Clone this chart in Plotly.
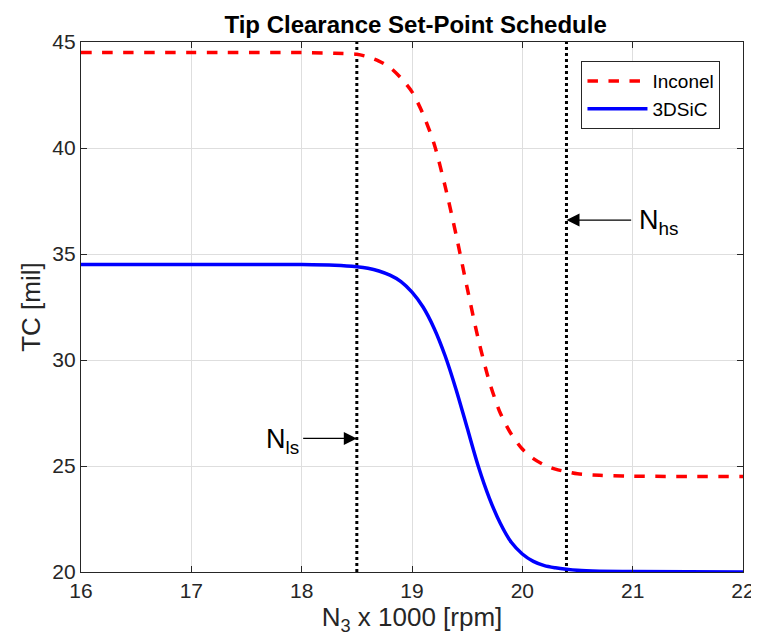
import plotly.graph_objects as go

# ---- data ----
inconel_x = [16.0, 17.0, 18.0, 18.3, 18.5, 18.6, 18.7, 18.8, 18.9, 19.0, 19.1, 19.2, 19.3, 19.4,
             19.5, 19.6, 19.7, 19.8, 19.9, 20.0, 20.1, 20.2, 20.3, 20.4, 20.5, 20.7, 21.0, 22.0]
inconel_y = [44.5, 44.5, 44.5, 44.47, 44.42, 44.3, 44.1, 43.8, 43.3, 42.65, 41.6, 40.2, 38.2, 35.9,
             33.4, 31.0, 29.0, 27.5, 26.5, 25.8, 25.35, 25.05, 24.85, 24.73, 24.63, 24.56, 24.52, 24.5]

sic_x = [16.0, 17.0, 18.0, 18.3, 18.5, 18.6, 18.7, 18.8, 18.9, 19.0, 19.1, 19.2, 19.3, 19.4,
         19.5, 19.6, 19.7, 19.8, 19.9, 20.0, 20.1, 20.2, 20.3, 20.4, 20.5, 20.7, 21.0, 22.0]
sic_y = [34.5, 34.5, 34.5, 34.47, 34.4, 34.33, 34.2, 34.0, 33.7, 33.2, 32.5, 31.5, 30.2, 28.6,
         26.8, 25.0, 23.5, 22.3, 21.4, 20.85, 20.5, 20.3, 20.2, 20.13, 20.08, 20.04, 20.02, 20.0]

speed_marks = [18.5, 20.4]          # N_ls, N_hs
y_range = [20, 45]
x_ticks = [16, 17, 18, 19, 20, 21, 22]
y_ticks = [20, 25, 30, 35, 40, 45]

FONT = "Liberation Sans, Arial, sans-serif"
AX = "#262626"

fig = go.Figure()

for xv in speed_marks:
    fig.add_trace(go.Scatter(x=[xv, xv], y=y_range, mode="lines",
                             line=dict(color="black", width=3, dash="dot"),
                             showlegend=False, hoverinfo="skip"))

fig.add_trace(go.Scatter(x=inconel_x, y=inconel_y, mode="lines", name="Inconel",
                         line=dict(color="#ff0000", width=3.5, dash="dash", shape="spline", smoothing=0.8)))
fig.add_trace(go.Scatter(x=sic_x, y=sic_y, mode="lines", name="3DSiC",
                         line=dict(color="#0000ff", width=3.5, shape="spline", smoothing=0.8)))

# arrows
fig.add_annotation(x=speed_marks[1], y=36.6, ax=21.0, ay=36.6, xref="x", yref="y",
                   axref="x", ayref="y", text="", showarrow=True, arrowhead=2,
                   arrowsize=2.0, arrowwidth=1.3, arrowcolor="black")
fig.add_annotation(x=21.04, y=36.5, xref="x", yref="y", text="N<sub>hs</sub>",
                   showarrow=False, xanchor="left", yanchor="middle",
                   font=dict(family=FONT, size=27, color="black"))
fig.add_annotation(x=speed_marks[0], y=26.3, ax=18.0, ay=26.3, xref="x", yref="y",
                   axref="x", ayref="y", text="", showarrow=True, arrowhead=2,
                   arrowsize=2.0, arrowwidth=1.3, arrowcolor="black")
fig.add_annotation(x=17.99, y=26.2, xref="x", yref="y", text="N<sub>ls</sub>",
                   showarrow=False, xanchor="right", yanchor="middle",
                   font=dict(family=FONT, size=27, color="black"))

fig.update_layout(
    width=759, height=643,
    margin=dict(l=73, r=17, t=34, b=79),
    paper_bgcolor="white", plot_bgcolor="white",
    font=dict(family=FONT, color=AX),
    title=dict(text="<b>Tip Clearance Set-Point Schedule</b>", x=0.537, xanchor="center",
               y=0.974, yanchor="middle", font=dict(family=FONT, size=24, color="black")),
    legend=dict(x=0.756, y=0.964, xanchor="left", yanchor="top",
                bgcolor="white", bordercolor=AX, borderwidth=1, itemwidth=60,
                tracegroupgap=0,
                font=dict(family=FONT, size=19, color="black")),
)
fig.update_xaxes(range=[16, 22], tickvals=x_ticks, ticks="inside", ticklen=6, tickcolor=AX,
                 showline=True, linecolor=AX, linewidth=1.3, mirror="ticks",
                 showgrid=True, gridcolor="#dedede", gridwidth=1, zeroline=False,
                 tickfont=dict(family=FONT, size=21, color=AX),
                 title=dict(text="N<sub>3</sub> x 1000 [rpm]", standoff=6,
                            font=dict(family=FONT, size=26, color=AX)))
fig.update_yaxes(range=y_range, tickvals=y_ticks, ticks="inside", ticklen=6, tickcolor=AX,
                 showline=True, linecolor=AX, linewidth=1.3, mirror="ticks",
                 showgrid=True, gridcolor="#dedede", gridwidth=1, zeroline=False,
                 tickfont=dict(family=FONT, size=21, color=AX),
                 title=dict(text="TC [mil]", standoff=4,
                            font=dict(family=FONT, size=26, color=AX)))

fig.write_html("out.html")
